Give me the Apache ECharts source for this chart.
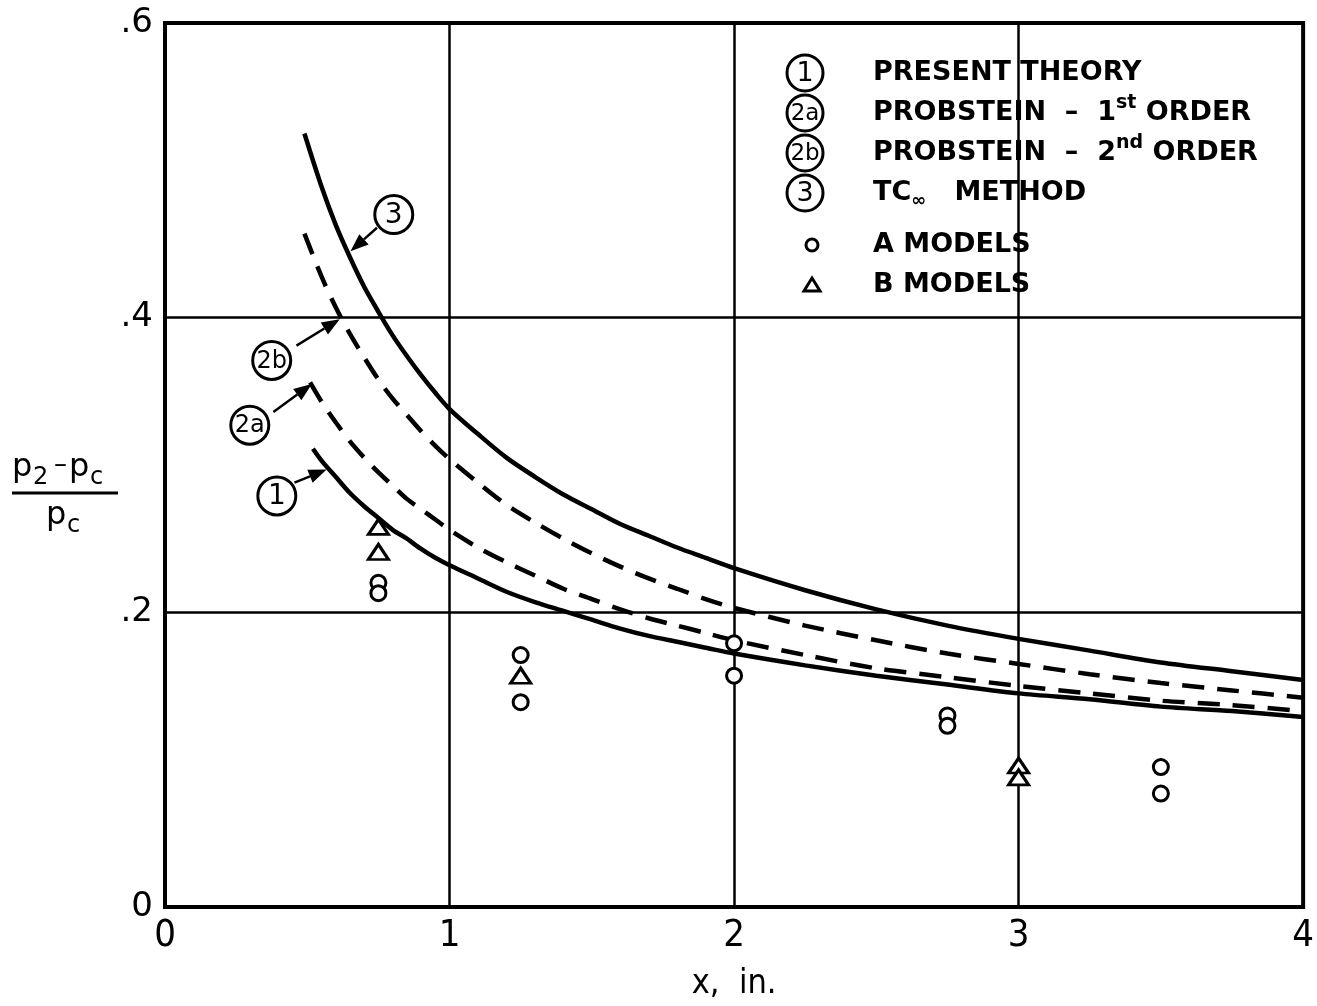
<!DOCTYPE html>
<html>
<head>
<meta charset="utf-8">
<script src="https://cdn.jsdelivr.net/npm/echarts@6/dist/echarts.min.js"></script>
<style>html,body{margin:0;padding:0;background:#fff}#c{width:1317px;height:1006px}</style>
</head>
<body>
<div id="c"></div>
<script>
// ---- data ----
const xTicks = ['0', '1', '2', '3', '4'];
const yTicks = ['0', '.2', '.4', '.6'];

// curve 1: present theory (solid)
const curve1 = [[0.52,0.311],[0.55,0.303],[0.6,0.292],[0.65,0.281],[0.7,0.272],[0.75,0.264],[0.8,0.256],[0.85,0.250],[0.9,0.243],[0.95,0.237],[1.0,0.232],[1.1,0.223],[1.2,0.214],[1.3,0.207],[1.4,0.201],[1.5,0.195],[1.6,0.189],[1.7,0.184],[1.8,0.180],[1.9,0.176],[2.0,0.172],[2.25,0.164],[2.5,0.157],[2.75,0.151],[3.0,0.145],[3.25,0.141],[3.5,0.136],[3.75,0.133],[4.0,0.129]];
// curve 2a: Probstein 1st order (dashed)
const curve2a = [[0.51,0.356],[0.55,0.343],[0.6,0.329],[0.65,0.316],[0.7,0.305],[0.75,0.295],[0.8,0.286],[0.85,0.277],[0.9,0.270],[0.95,0.263],[1.0,0.256],[1.1,0.244],[1.2,0.234],[1.3,0.225],[1.4,0.216],[1.5,0.209],[1.6,0.202],[1.7,0.196],[1.8,0.191],[1.9,0.186],[2.0,0.181],[2.25,0.171],[2.5,0.162],[2.75,0.156],[3.0,0.150],[3.25,0.145],[3.5,0.140],[3.75,0.137],[4.0,0.133]];
// curve 2b: Probstein 2nd order (dashed)
const curve2b = [[0.49,0.457],[0.55,0.428],[0.6,0.407],[0.65,0.389],[0.7,0.373],[0.75,0.358],[0.8,0.345],[0.85,0.334],[0.9,0.323],[0.95,0.313],[1.0,0.304],[1.1,0.288],[1.2,0.273],[1.3,0.261],[1.4,0.250],[1.5,0.240],[1.6,0.231],[1.7,0.223],[1.8,0.216],[1.9,0.209],[2.0,0.203],[2.25,0.191],[2.5,0.181],[2.75,0.172],[3.0,0.165],[3.25,0.158],[3.5,0.152],[3.75,0.147],[4.0,0.142]];
// curve 3: TC-infinity method (solid)
const curve3 = [[0.49,0.525],[0.55,0.489],[0.6,0.463],[0.65,0.441],[0.7,0.421],[0.75,0.404],[0.8,0.388],[0.85,0.374],[0.9,0.361],[0.95,0.349],[1.0,0.338],[1.1,0.321],[1.2,0.305],[1.3,0.292],[1.4,0.280],[1.5,0.270],[1.6,0.260],[1.7,0.252],[1.8,0.244],[1.9,0.237],[2.0,0.230],[2.25,0.215],[2.5,0.202],[2.75,0.191],[3.0,0.182],[3.25,0.174],[3.5,0.166],[3.75,0.160],[4.0,0.154]];
// experimental points
const aModels = [[0.75,0.220],[0.75,0.213],[1.25,0.171],[1.25,0.139],[2.0,0.179],[2.0,0.157],[2.75,0.130],[2.75,0.123],[3.5,0.095],[3.5,0.077]];
const bModels = [[0.75,0.258],[0.75,0.241],[1.25,0.157],[3.0,0.096],[3.0,0.088]];

const legendLabels = ['PRESENT THEORY', 'PROBSTEIN', '1', 'st', 'ORDER', '2', 'nd', 'TC', '\u221E', 'METHOD', 'A MODELS', 'B MODELS'];
const curveTags = ['1', '2a', '2b', '3'];

// ---- styling ----
const FONT = '"DejaVu Sans", sans-serif';
const TICKFONT = '"Liberation Sans Narrow", "DejaVu Sans Condensed", sans-serif';
const black = '#000';

// annotation placement (data coordinates): tag centre, arrow start, arrow tip
const annots = [
  { tag: curveTags[0], c: [0.393, 0.279], from: [0.455, 0.288], to: [0.568, 0.297] },
  { tag: curveTags[1], c: [0.298, 0.327], from: [0.381, 0.336], to: [0.516, 0.355] },
  { tag: curveTags[2], c: [0.375, 0.371], from: [0.462, 0.381], to: [0.614, 0.399] },
  { tag: curveTags[3], c: [0.804, 0.470], from: [0.745, 0.461], to: [0.652, 0.445] }
];

function curve(name, data, dashed) {
  return {
    name: name, type: 'line', data: data, smooth: 0.3, showSymbol: false, symbol: 'none',
    lineStyle: { color: black, width: 4.5, type: dashed ? [22, 13] : 'solid', cap: 'butt' },
    z: 3
  };
}

const chart = echarts.init(document.getElementById('c'), null, { renderer: 'canvas' });

const legendX = 805, textX = 873;
const rows = [73, 113, 153, 193, 245, 285];
const g = [];
// circled tags in legend
[['1', rows[0]], ['2a', rows[1]], ['2b', rows[2]], ['3', rows[3]]].forEach(function (t) {
  g.push({ type: 'circle', shape: { cx: legendX, cy: t[1], r: 18 }, style: { fill: '#fff', stroke: black, lineWidth: 3 }, z: 10 });
  g.push({ type: 'text', x: legendX, y: t[1] + 1, style: { text: t[0], font: (t[0].length > 1 ? '23px ' : '27px ') + FONT, fill: black, textAlign: 'center', textVerticalAlign: 'middle', align: 'center', verticalAlign: 'middle' }, z: 11 });
});
g.push({ type: 'circle', shape: { cx: 812, cy: rows[4], r: 6 }, style: { fill: '#fff', stroke: black, lineWidth: 3 }, z: 10 });
g.push({ type: 'polygon', shape: { points: [[812, rows[5] - 7], [820, rows[5] + 6], [804, rows[5] + 6]] }, style: { fill: '#fff', stroke: black, lineWidth: 3 }, z: 10 });

const rich = {
  t: { fontSize: 27, fontWeight: 'bold', fontFamily: FONT, color: black },
  s: { fontSize: 19, fontWeight: 'bold', fontFamily: FONT, color: black, padding: [0, 0, 20, 0] },
  d: { fontSize: 18, fontWeight: 'bold', fontFamily: FONT, color: black, padding: [16, 0, 0, 0] }
};
function ltext(y, str) {
  g.push({ type: 'text', x: textX, y: y, style: { text: str, rich: rich, textVerticalAlign: 'middle', verticalAlign: 'middle', fill: black }, z: 10 });
}
ltext(rows[0], '{t|' + legendLabels[0] + '}');
ltext(rows[1], '{t|' + legendLabels[1] + '  \u2013  ' + legendLabels[2] + '}{s|' + legendLabels[3] + '}{t| ' + legendLabels[4] + '}');
ltext(rows[2], '{t|' + legendLabels[1] + '  \u2013  ' + legendLabels[5] + '}{s|' + legendLabels[6] + '}{t| ' + legendLabels[4] + '}');
ltext(rows[3], '{t|' + legendLabels[7] + '}{d|' + legendLabels[8] + '}{t|   ' + legendLabels[9] + '}');
ltext(rows[4], '{t|' + legendLabels[10] + '}');
ltext(rows[5], '{t|' + legendLabels[11] + '}');

// y-axis title (fraction)
const yf = '32px ' + FONT, ysub = '24px ' + FONT;
function tt(x, y, s, f) {
  g.push({ type: 'text', x: x, y: y, style: { text: s, font: f, fill: black, textAlign: 'left', align: 'left', textVerticalAlign: 'bottom', verticalAlign: 'bottom' } });
}
tt(12, 484, 'p', yf);
tt(33, 490, '2', ysub);
tt(54, 478, '\u2013', '26px ' + FONT);
tt(69, 484, 'p', yf);
tt(90, 490, 'c', ysub);
g.push({ type: 'line', shape: { x1: 12, y1: 493, x2: 118, y2: 493 }, style: { stroke: black, lineWidth: 3 } });
tt(46, 532, 'p', yf);
tt(67, 538, 'c', ysub);

const option = {
  animation: false,
  backgroundColor: '#fff',
  grid: { left: 165, right: 11, top: 23, bottom: 99, show: true, borderColor: black, borderWidth: 4, backgroundColor: 'transparent' },
  xAxis: {
    type: 'value', min: 0, max: 4, interval: 1,
    name: 'x,  in.', nameLocation: 'middle', nameGap: 60,
    nameTextStyle: { fontFamily: TICKFONT, fontSize: 34, color: black },
    axisLine: { show: true, lineStyle: { color: black, width: 4 } },
    axisTick: { show: false },
    axisLabel: { fontFamily: TICKFONT, fontSize: 38, color: black, margin: 10, formatter: function (v) { return xTicks[Math.round(v)]; } },
    splitLine: { show: true, lineStyle: { color: black, width: 2.5 } }
  },
  yAxis: {
    type: 'value', min: 0, max: 0.6, interval: 0.2,
    axisLine: { show: true, lineStyle: { color: black, width: 4 } },
    axisTick: { show: false },
    axisLabel: { fontFamily: FONT, fontSize: 34, color: black, margin: 12, formatter: function (v) { return yTicks[Math.round(v / 0.2)]; } },
    splitLine: { show: true, lineStyle: { color: black, width: 2.5 } }
  },
  graphic: g,
  series: [
    curve('1', curve1, false),
    curve('2a', curve2a, true),
    curve('2b', curve2b, true),
    curve('3', curve3, false),
    { name: 'A MODELS', type: 'scatter', data: aModels, symbol: 'circle', symbolSize: 15, itemStyle: { color: '#fff', borderColor: black, borderWidth: 3, opacity: 1 }, z: 5 },
    { name: 'B MODELS', type: 'scatter', data: bModels, symbol: 'triangle', symbolSize: [20, 15], itemStyle: { color: '#fff', borderColor: black, borderWidth: 3, opacity: 1 }, z: 5 }
  ]
};
chart.setOption(option);

// annotation tags and arrows, placed through the axes' own scale
const extra = g.slice();
annots.forEach(function (a) {
  const c = chart.convertToPixel({ gridIndex: 0 }, a.c);
  const p0 = chart.convertToPixel({ gridIndex: 0 }, a.from);
  const p1 = chart.convertToPixel({ gridIndex: 0 }, a.to);
  const dx = p1[0] - p0[0], dy = p1[1] - p0[1];
  const len = Math.sqrt(dx * dx + dy * dy), ux = dx / len, uy = dy / len;
  const hl = 18, hw = 7;
  const bx = p1[0] - ux * hl, by = p1[1] - uy * hl;
  extra.push({ type: 'line', shape: { x1: p0[0], y1: p0[1], x2: bx, y2: by }, style: { stroke: black, lineWidth: 2.5 }, z: 20 });
  extra.push({ type: 'polygon', shape: { points: [[p1[0], p1[1]], [bx - uy * hw, by + ux * hw], [bx + uy * hw, by - ux * hw]] }, style: { fill: black }, z: 20 });
  extra.push({ type: 'circle', shape: { cx: c[0], cy: c[1], r: 19 }, style: { fill: '#fff', stroke: black, lineWidth: 3 }, z: 20 });
  extra.push({ type: 'text', x: c[0], y: c[1] + 1, style: { text: a.tag, font: (a.tag.length > 1 ? '24px ' : '28px ') + FONT, fill: black, textAlign: 'center', textVerticalAlign: 'middle', align: 'center', verticalAlign: 'middle' }, z: 21 });
});
chart.setOption({ graphic: extra }, { replaceMerge: ['graphic'] });
</script>
</body>
</html>
